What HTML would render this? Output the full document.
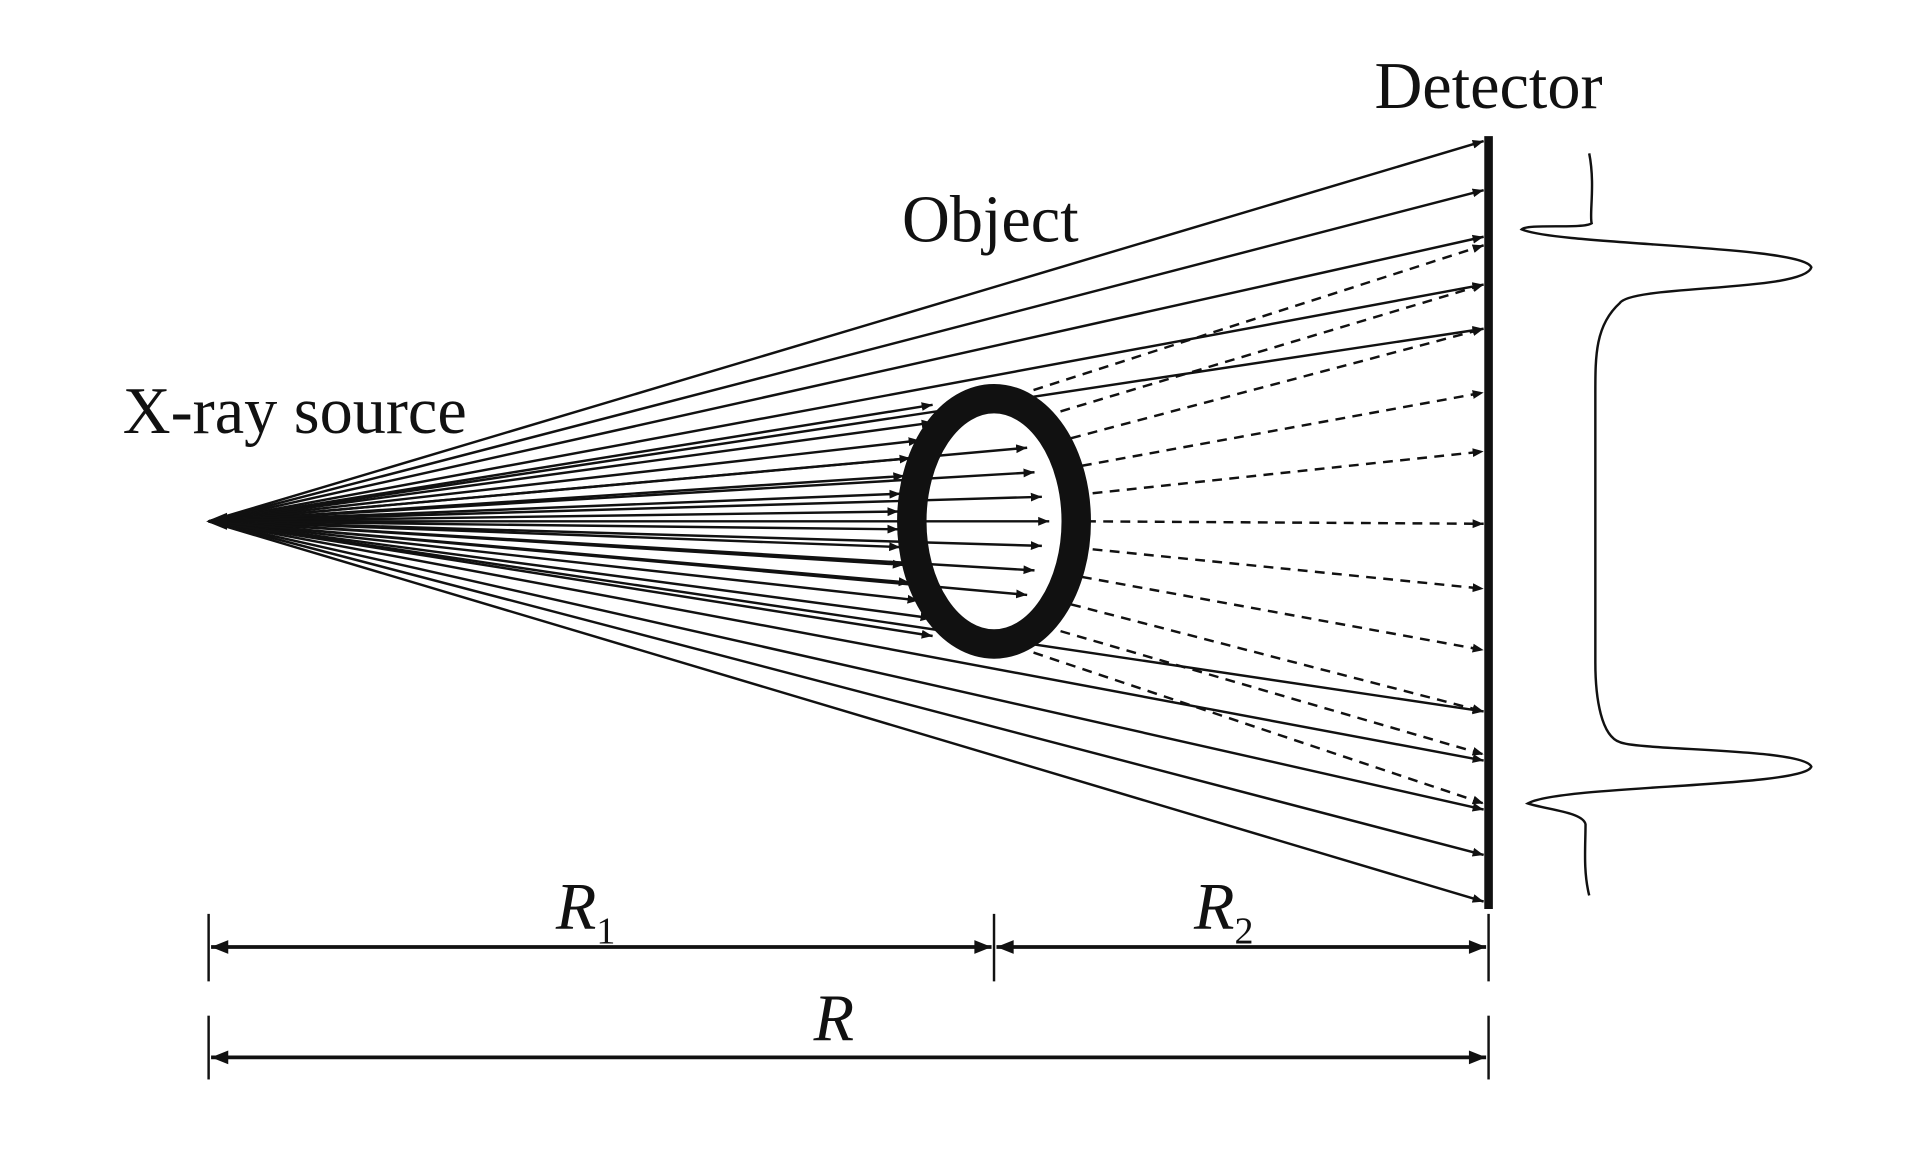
<!DOCTYPE html>
<html><head><meta charset="utf-8"><style>
html,body{margin:0;padding:0;background:#fff;}
svg{display:block;}
text{font-family:"Liberation Serif",serif;fill:#111;}
</style></head><body>
<svg id="s" width="1923" height="1169" viewBox="0 0 1567 953" preserveAspectRatio="none" xmlns="http://www.w3.org/2000/svg">
<defs>
<marker id="a" viewBox="0 0 10 10" refX="10" refY="5" markerWidth="9" markerHeight="9" markerUnits="userSpaceOnUse" orient="auto"><path d="M0,1 L10,5 L0,9 z" fill="#111"/></marker>
<marker id="b" viewBox="0 0 10 10" refX="10" refY="5" markerWidth="16" markerHeight="14" markerUnits="userSpaceOnUse" orient="auto-start-reverse"><path d="M0,1 L10,5 L0,9 z" fill="#111"/></marker>
</defs>
<g id="rays" stroke="#111" stroke-width="2" fill="none"></g>
<ellipse cx="810" cy="425" rx="67" ry="100" fill="none" stroke="#111" stroke-width="24"/>
<line x1="1213" y1="111" x2="1213" y2="741" stroke="#111" stroke-width="7"/>
<path d="M1295,125 C1300,150 1295,175 1297,182 C1290,187 1245,182 1240,187 C1270,200 1470,200 1476,218 C1470,238 1330,232 1320,247 C1300,265 1300,290 1300,320 L1300,540 C1300,570 1305,600 1320,605 C1335,612 1470,610 1476,625 C1470,642 1270,640 1245,655 C1260,660 1290,662 1292,672 C1292,690 1290,710 1295,730" fill="none" stroke="#111" stroke-width="2"/>
<g stroke="#111" stroke-width="2">
<line x1="170" y1="745" x2="170" y2="800"/><line x1="810" y1="745" x2="810" y2="800"/><line x1="1213" y1="745" x2="1213" y2="800"/>
<line x1="170" y1="828" x2="170" y2="880"/><line x1="1213" y1="828" x2="1213" y2="880"/>
<line x1="172" y1="772" x2="808" y2="772" stroke-width="3" marker-start="url(#b)" marker-end="url(#b)"/>
<line x1="812" y1="772" x2="1211" y2="772" stroke-width="3" marker-start="url(#b)" marker-end="url(#b)"/>
<line x1="172" y1="862" x2="1211" y2="862" stroke-width="3" marker-start="url(#b)" marker-end="url(#b)"/>
</g>
<text x="1120" y="88" font-size="54">Detector</text>
<text x="735" y="197" font-size="54">Object</text>
<text x="100" y="353" font-size="54">X-ray source</text>
<text x="453" y="757" font-size="54" font-style="italic">R<tspan font-size="31" font-style="normal" dy="12">1</tspan></text>
<text x="973" y="757" font-size="54" font-style="italic">R<tspan font-size="31" font-style="normal" dy="12">2</tspan></text>
<text x="663" y="848" font-size="54" font-style="italic">R</text>
<path d="M168,425 L185,418 L185,432 z" fill="#111"/>
</svg>
<script>
var g=document.getElementById('rays'),ns='http://www.w3.org/2000/svg';
function L(x1,y1,x2,y2,d){var l=document.createElementNS(ns,'line');l.setAttribute('x1',x1);l.setAttribute('y1',y1);l.setAttribute('x2',x2);l.setAttribute('y2',y2);l.setAttribute('marker-end','url(#a)');if(d)l.setAttribute('stroke-dasharray','8,6');g.appendChild(l);}
var sx=170,sy=425;
[115,155,193,232,268,580,620,660,697,735].forEach(function(y){L(sx,sy,1209,y);});
for(var i=0;i<14;i++){var y=330+i*14.5;var x=810-70*Math.sqrt(Math.max(0,1-Math.pow((y-425)/100,2)))-8;if(x>760)x=760;L(sx,sy,x,y);}
for(var i=0;i<7;i++){var y=365+i*20;L(sx,sy,855-Math.abs(y-425)*0.3,y);}
var dy=[200,232,268,320,368,427,480,530,580,615,655];
for(var i=0;i<dy.length;i++){var oy=318+i*21.4;var ox=835+Math.max(0,50-Math.abs(oy-425)*0.4);L(ox,oy,1209,dy[i],true);}
</script>
</body></html>
